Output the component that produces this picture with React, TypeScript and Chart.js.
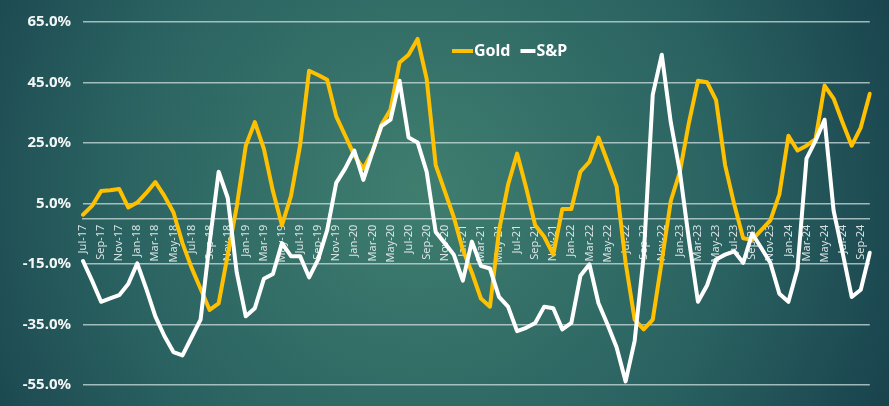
import { useEffect, useRef } from 'react';
import { Chart, registerables } from 'chart.js';

Chart.register(...registerables);

const months = [
  'Jul-17', 'Aug-17', 'Sep-17', 'Oct-17', 'Nov-17', 'Dec-17',
  'Jan-18', 'Feb-18', 'Mar-18', 'Apr-18', 'May-18', 'Jun-18', 'Jul-18', 'Aug-18', 'Sep-18', 'Oct-18', 'Nov-18', 'Dec-18',
  'Jan-19', 'Feb-19', 'Mar-19', 'Apr-19', 'May-19', 'Jun-19', 'Jul-19', 'Aug-19', 'Sep-19', 'Oct-19', 'Nov-19', 'Dec-19',
  'Jan-20', 'Feb-20', 'Mar-20', 'Apr-20', 'May-20', 'Jun-20', 'Jul-20', 'Aug-20', 'Sep-20', 'Oct-20', 'Nov-20', 'Dec-20',
  'Jan-21', 'Feb-21', 'Mar-21', 'Apr-21', 'May-21', 'Jun-21', 'Jul-21', 'Aug-21', 'Sep-21', 'Oct-21', 'Nov-21', 'Dec-21',
  'Jan-22', 'Feb-22', 'Mar-22', 'Apr-22', 'May-22', 'Jun-22', 'Jul-22', 'Aug-22', 'Sep-22', 'Oct-22', 'Nov-22', 'Dec-22',
  'Jan-23', 'Feb-23', 'Mar-23', 'Apr-23', 'May-23', 'Jun-23', 'Jul-23', 'Aug-23', 'Sep-23', 'Oct-23', 'Nov-23', 'Dec-23',
  'Jan-24', 'Feb-24', 'Mar-24', 'Apr-24', 'May-24', 'Jun-24', 'Jul-24', 'Aug-24', 'Sep-24', 'Oct-24',
];

const gold = [
  1.3, 4.2, 9.1, 9.4, 9.8, 3.7,
  5.3, 8.5, 12.1, 7.5, 2.1, -8.1, -16.2, -23.2, -30.2, -28.0, -12.0, 4.0,
  24.1, 31.9, 23.1, 9.1, -2.2, 7.5, 24.1, 48.9, 47.5, 45.9, 33.8, 27.4,
  20.9, 16.5, 22.0, 31.0, 36.0, 51.6, 54.2, 59.4, 46.2, 17.7, 9.1, 0.5,
  -10.3, -17.8, -26.4, -29.1, -4.0, 11.2, 21.5, 10.2, -2.2, -6.0, -11.9, 3.2,
  3.2, 15.5, 18.8, 26.8, 18.8, 10.7, -14.6, -33.4, -36.6, -33.4, -14.0, 5.9,
  15.5, 31.7, 45.6, 45.1, 39.2, 17.7, 4.8, -6.5, -7.0, -3.8, -0.6, 8.0,
  27.4, 22.5, 24.1, 26.3, 44.0, 39.7, 31.7, 24.1, 30.1, 41.3,
];

const sp = [
  -14.0, -20.5, -27.5, -26.4, -25.3, -21.6,
  -14.8, -23.2, -32.3, -38.8, -44.1, -45.2, -39.3, -33.4, -8.0, 15.5, 6.9, -17.8,
  -32.3, -29.6, -19.9, -18.3, -8.1, -12.4, -12.4, -19.4, -13.5, -3.8, 11.8, 16.6,
  22.5, 12.8, 22.0, 30.6, 32.7, 45.6, 26.8, 25.2, 15.5, -4.4, -8.1, -11.9,
  -20.5, -7.6, -15.6, -16.5, -25.9, -29.1, -37.2, -36.1, -34.5, -29.1, -29.6, -36.6,
  -34.5, -18.9, -15.1, -28.0, -35.0, -42.5, -53.8, -40.4, -12.4, 41.0, 54.2, 31.7,
  15.5, -7.0, -27.5, -22.1, -13.5, -11.9, -10.8, -14.6, -4.9, -9.7, -14.6, -24.8,
  -27.5, -16.7, 19.8, 25.8, 32.7, 2.6, -11.3, -25.9, -23.5, -11.3,
];

const yTicks = [-55, -35, -15, 5, 25, 45, 65];
const seriesNames = ['Gold', 'S&P'];
const seriesColors = ['#FFC000', '#FFFFFF'];

export default function App() {
  const ref = useRef<HTMLCanvasElement>(null);

  useEffect(() => {
    document.body.style.margin = '0';
    const canvas = ref.current;
    if (!canvas) return;

    const gridColor = 'rgba(205,222,222,0.75)';

    const bgPlugin = {
      id: 'bgGradient',
      beforeDraw(chart: any) {
        const { ctx, width, height } = chart;
        const g = ctx.createRadialGradient(420, 190, 0, 420, 190, 560);
        g.addColorStop(0, '#3f7e6f');
        g.addColorStop(0.55, '#2a6261');
        g.addColorStop(1, '#153c49');
        ctx.save();
        ctx.fillStyle = g;
        ctx.fillRect(0, 0, width, height);
        ctx.restore();
      },
    };

    const legendPlugin = {
      id: 'customLegend',
      afterDraw(chart: any) {
        const { ctx } = chart;
        ctx.save();
        ctx.font = 'bold 16px "Noto Sans"';
        ctx.textBaseline = 'middle';
        ctx.textAlign = 'left';
        let x = 452;
        const y = 51;
        seriesNames.forEach((name, i) => {
          ctx.strokeStyle = seriesColors[i];
          ctx.lineWidth = 4;
          ctx.beginPath();
          ctx.moveTo(x, y);
          ctx.lineTo(x + (i === 0 ? 21 : 15), y);
          ctx.stroke();
          x += i === 0 ? 22 : 16;
          ctx.fillStyle = '#FFFFFF';
          ctx.fillText(name, x, y);
          x += ctx.measureText(name).width + 10;
        });
        ctx.restore();
      },
    };

    const chart = new Chart(canvas, {
      type: 'line',
      data: {
        labels: months,
        datasets: [
          {
            label: seriesNames[0],
            data: gold,
            borderColor: seriesColors[0],
            borderWidth: 4,
            pointRadius: 0,
            tension: 0,
            borderJoinStyle: 'round',
            borderCapStyle: 'round',
            order: 2,
          },
          {
            label: seriesNames[1],
            data: sp,
            borderColor: seriesColors[1],
            borderWidth: 4,
            pointRadius: 0,
            tension: 0,
            borderJoinStyle: 'round',
            borderCapStyle: 'round',
            order: 1,
          },
        ],
      },
      options: {
        animation: false,
        responsive: false,
        maintainAspectRatio: false,
        layout: { padding: { top: 22, right: 15, bottom: 12.7, left: 0 } },
        plugins: {
          legend: { display: false },
          tooltip: { enabled: false },
          title: { display: false },
        },
        scales: {
          x: {
            position: { y: 0 } as any,
            grid: { display: false, drawTicks: false },
            border: { display: true, color: gridColor, width: 1.5 },
            ticks: {
              autoSkip: false,
              minRotation: 90,
              maxRotation: 90,
              padding: 6,
              color: 'rgba(232,238,238,0.92)',
              font: { family: 'Noto Sans', size: 11 },
              callback: (_v: any, i: number) => (i % 2 === 0 ? months[i] : ''),
            },
          },
          y: {
            min: -55,
            max: 65,
            afterBuildTicks: (axis: any) => {
              axis.ticks = yTicks.map((v) => ({ value: v }));
            },
            afterFit: (axis: any) => {
              axis.width = 83;
            },
            grid: { color: gridColor, lineWidth: 1.5, drawTicks: false },
            border: { display: false },
            ticks: {
              padding: 12,
              color: '#F4F6F6',
              font: { family: 'Noto Sans', size: 15, weight: 'bold' },
              callback: (v: any) => Number(v).toFixed(1) + '%',
            },
          },
        },
      },
      plugins: [bgPlugin, legendPlugin],
    });

    return () => chart.destroy();
  }, []);

  return <canvas ref={ref} width={889} height={406} style={{ display: 'block' }} />;
}
